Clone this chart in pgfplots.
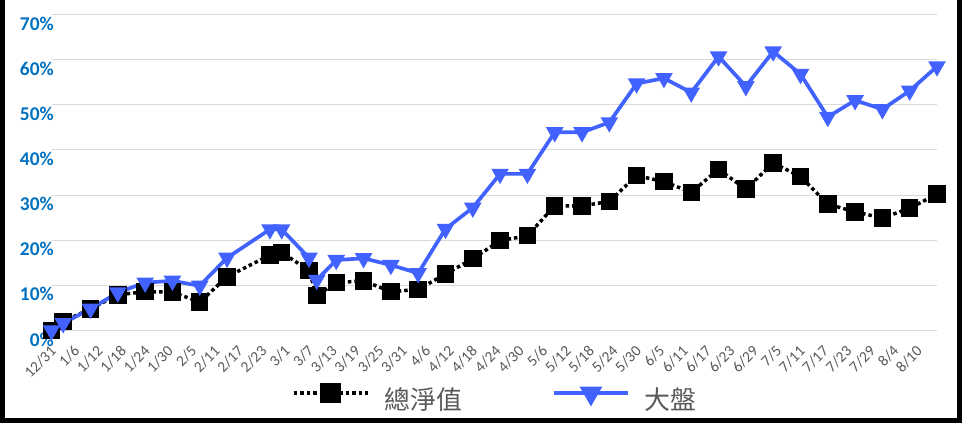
\documentclass[border=0pt]{standalone}
\usepackage{pgfplots}
\pgfplotsset{compat=1.18}
\usepackage{fontspec}
\setmainfont{Carlito}
\newfontfamily\cjk{Noto Sans CJK TC}
\definecolor{lineblue}{RGB}{65,98,255}
\definecolor{tickblue}{RGB}{0,112,192}
\definecolor{txtgray}{RGB}{89,89,89}
\definecolor{gridgray}{RGB}{217,217,217}
\pgfplotstableread{
day nav market
0 0.0 0.0
3 2.0 1.6
10 4.8 4.8
17 7.9 8.4
24 8.6 10.6
31 8.5 11.0
38 6.3 9.9
45 11.9 16.1
56 16.7 22.4
59 17.3 22.4
66 13.3 16.1
68 7.7 11.2
73 10.6 15.6
80 11.0 16.0
87 8.6 14.5
94 9.1 12.7
101 12.5 22.5
108 15.9 27.2
115 19.9 34.7
122 21.0 34.7
129 27.6 43.9
136 27.6 43.9
143 28.6 46.1
150 34.3 54.7
157 33.0 55.9
164 30.6 52.7
171 35.7 60.7
178 31.3 54.1
185 37.1 61.8
192 34.1 56.8
199 28.0 47.3
206 26.3 51.0
213 24.9 49.0
220 27.1 53.1
227 30.2 58.5
}\datatable
\begin{document}
\begin{tikzpicture}
\useasboundingbox (0,0) rectangle (962bp,424bp);
\begin{axis}[
  at={(51.5bp,93.5bp)}, anchor=south west,
  scale only axis, width=885.5bp, height=316bp,
  xmin=0, xmax=227, ymin=0, ymax=70,
  clip=false,
  axis line style={draw=none},
  major tick length=0pt,
  ymajorgrids, grid style={gridgray, line width=1bp},
  ytick={0,10,...,70},
  yticklabels={0\%,10\%,20\%,30\%,40\%,50\%,60\%,70\%},
  yticklabel style={anchor=east, inner sep=0pt, xshift=2.5bp, yshift=-9bp,
     font=\fontsize{19.5}{19.5}\selectfont\bfseries, text=tickblue},
  xtick={0,6,...,222},
  xticklabels={12/31,1/6,1/12,1/18,1/24,1/30,2/5,2/11,2/17,2/23,3/1,3/7,3/13,3/19,3/25,3/31,4/6,4/12,4/18,4/24,4/30,5/6,5/12,5/18,5/24,5/30,6/5,6/11,6/17,6/23,6/29,7/5,7/11,7/17,7/23,7/29,8/4,8/10},
  xticklabel style={xshift=2bp, yshift=-18bp, rotate=45, anchor=east, inner sep=0pt,
     font=\fontsize{15.5}{15.5}\selectfont, text=txtgray},
  legend columns=2,
  legend style={draw=none, fill=none, at={(0.5,-0.20)}, anchor=center,
     /tikz/every even column/.append style={column sep=90bp},
     nodes={inner sep=0pt}},
  legend image code/.code={\draw[mark repeat=2, mark phase=2, #1] plot coordinates {(0bp,0bp) (37bp,0bp) (74bp,0bp)};},
]
\addplot[black, line width=3.5bp, dash pattern=on 3.5bp off 3bp,
   mark=square*, mark size=7bp, mark options={solid, fill=black},
   legend image post style={mark size=8.5bp}]
   table[x=day, y=nav] {\datatable};
\addlegendentry{\hspace{15bp}\raisebox{-12bp}{\textcolor{txtgray}{\cjk\fontsize{26}{26}\selectfont 總淨值}}}
\addplot[lineblue, line width=3.7bp,
   mark=triangle*, mark size=6.5bp, mark options={solid, rotate=180, fill=lineblue},
   legend image post style={mark size=9.5bp}]
   table[x=day, y=market] {\datatable};
\addlegendentry{\hspace{15bp}\raisebox{-12bp}{\textcolor{txtgray}{\cjk\fontsize{26}{26}\selectfont 大盤}}}
\end{axis}
\draw[black, line width=5bp] (2.5bp,424bp) -- (2.5bp,3bp) -- (959bp,3bp) -- (959bp,424bp);
\end{tikzpicture}
\end{document}
